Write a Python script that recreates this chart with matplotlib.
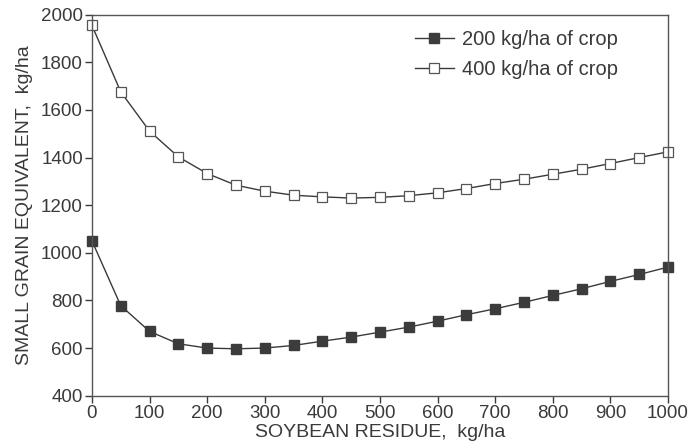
import matplotlib
matplotlib.use("Agg")
import matplotlib.pyplot as plt

plt.rcParams['font.family'] = ['Liberation Sans', 'DejaVu Sans']

residue = [0, 50, 100, 150, 200, 250, 300, 350, 400, 450, 500,
           550, 600, 650, 700, 750, 800, 850, 900, 950, 1000]
crop200 = [1050, 778, 670, 618, 600, 597, 600, 611, 629, 646, 667,
           688, 713, 740, 765, 792, 821, 849, 880, 909, 940]
crop400 = [1955, 1676, 1511, 1403, 1333, 1284, 1259, 1242, 1235, 1230, 1233,
           1240, 1252, 1270, 1291, 1309, 1330, 1351, 1375, 1400, 1424]
xticks = [0, 100, 200, 300, 400, 500, 600, 700, 800, 900, 1000]
yticks = [400, 600, 800, 1000, 1200, 1400, 1600, 1800, 2000]

ink = '#3a3a3a'
fig = plt.figure(figsize=(6.9, 4.46), dpi=100)
ax = fig.add_axes([0.1333, 0.1128, 0.8347, 0.8542])

ax.plot(residue, crop200, color=ink, lw=1.0, marker='s', ms=6.5,
        mfc='#3c3c3c', mec='#3c3c3c', label='200 kg/ha of crop', clip_on=False)
ax.plot(residue, crop400, color=ink, lw=1.0, marker='s', ms=6.5,
        mfc='white', mec='#555555', mew=0.9, label='400 kg/ha of crop', clip_on=False)

ax.set_xlim(0, 1000)
ax.set_ylim(400, 2000)
ax.set_xticks(xticks)
ax.set_yticks(yticks)
ax.tick_params(direction='out', length=5, width=1, colors=ink,
               labelsize=13.5, pad=1.5)
for s in ax.spines.values():
    s.set_color('#555555')
    s.set_linewidth(1)

ax.set_xlabel('SOYBEAN RESIDUE,  kg/ha', fontsize=14, color=ink, labelpad=2)
ax.set_ylabel('SMALL GRAIN EQUIVALENT,  kg/ha', fontsize=14, color=ink, labelpad=6)

leg = ax.legend(loc='upper left', bbox_to_anchor=(0.53, 1.007), frameon=False,
                fontsize=14.5, handlelength=1.9, handletextpad=0.4,
                labelspacing=0.55, labelcolor=ink)

fig.savefig('out.png', dpi=100, facecolor='white')
